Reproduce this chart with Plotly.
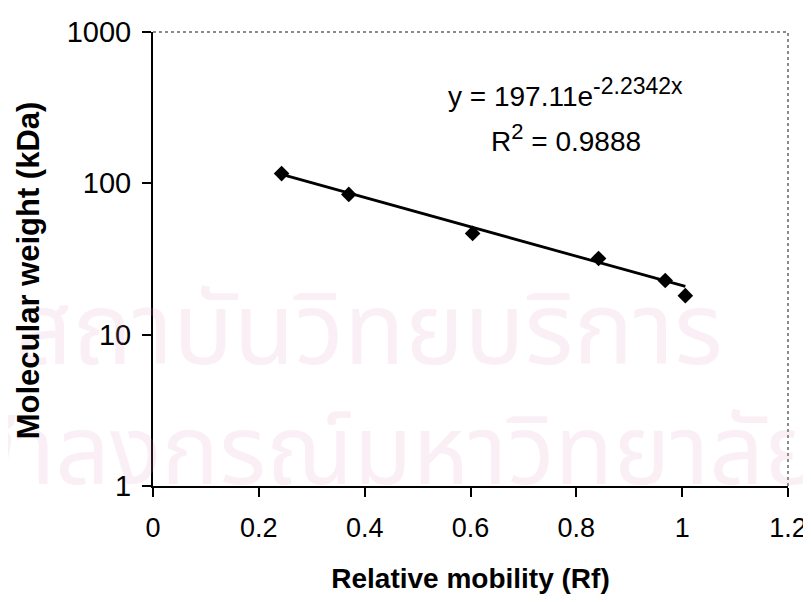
import plotly.graph_objects as go
import numpy as np

# Data
rf_values = [0.243, 0.370, 0.604, 0.842, 0.968, 1.006]
mw_values = [116, 84.5, 46.7, 31.9, 22.8, 18.1]

# Exponential trendline coefficients shown on chart
fit_a = 197.11
fit_b = -2.2342
fit_r2 = 0.9888

x_ticks = [0, 0.2, 0.4, 0.6, 0.8, 1.0, 1.2]
x_tick_labels = ["0", "0.2", "0.4", "0.6", "0.8", "1", "1.2"]
y_ticks = [1, 10, 100, 1000]
y_tick_labels = ["1", "10", "100", "1000"]

fx = np.linspace(min(rf_values), max(rf_values), 50)
fy = fit_a * np.exp(fit_b * fx)

FONT = "Liberation Sans, Arial, sans-serif"
WM_FONT = "Noto Sans Thai, Noto Sans, DejaVu Sans, sans-serif"
WM_COLOR = "rgba(214,150,185,0.15)"

fig = go.Figure()

fig.add_trace(go.Scatter(
    x=fx, y=fy, mode="lines",
    line=dict(color="black", width=2.8),
    showlegend=False, hoverinfo="skip"))

fig.add_trace(go.Scatter(
    x=rf_values, y=mw_values, mode="markers",
    marker=dict(symbol="diamond", size=12, color="black"),
    showlegend=False))

# faint watermark text
fig.add_annotation(x=-0.22, y=0.165, xref="paper", yref="paper",
                   text="สถาบันวิทยบริการ", showarrow=False, xanchor="left",
                   font=dict(size=100, color=WM_COLOR, family=WM_FONT))
fig.add_annotation(x=-0.40, y=-0.095, xref="paper", yref="paper",
                   text="จุฬาลงกรณ์มหาวิทยาลัย", showarrow=False, xanchor="left",
                   font=dict(size=96, color=WM_COLOR, family=WM_FONT))

# trendline equation
fig.add_annotation(x=0.65, y=0.913, xref="paper", yref="paper",
                   text=(f"y = {fit_a:.2f}e<sup><span style='font-size:23px'>"
                         f"{fit_b:.4f}x</span></sup>"),
                   showarrow=False, xanchor="center",
                   font=dict(size=28, color="black", family=FONT))
fig.add_annotation(x=0.65, y=0.813, xref="paper", yref="paper",
                   text=f"R<sup><span style='font-size:22px'>2</span></sup> = {fit_r2:.4f}",
                   showarrow=False, xanchor="center",
                   font=dict(size=28, color="black", family=FONT))

# y-axis title
fig.add_annotation(x=-0.197, y=0.475, xref="paper", yref="paper",
                   text="<b>Molecular weight (kDa)</b>", textangle=-90,
                   showarrow=False, xanchor="center", yanchor="middle",
                   font=dict(size=31, color="black", family=FONT))

# dotted plot-area border (top and right)
fig.add_shape(type="line", xref="paper", yref="paper", x0=0, y0=1, x1=1, y1=1,
              line=dict(color="#666", width=1.5, dash="dot"))
fig.add_shape(type="line", xref="paper", yref="paper", x0=1, y0=0, x1=1, y1=1,
              line=dict(color="#666", width=1.5, dash="dot"))

fig.update_layout(
    width=803, height=586,
    margin=dict(l=145, r=23, t=24, b=108),
    paper_bgcolor="white", plot_bgcolor="white",
    font=dict(family=FONT, color="black"),
    xaxis=dict(
        range=[0, 1.2], tickvals=x_ticks, ticktext=x_tick_labels,
        showgrid=False, zeroline=False, automargin=False,
        showline=True, linecolor="black", linewidth=2,
        ticks="outside", ticklen=9, tickwidth=2, tickcolor="black",
        tickfont=dict(size=27), ticklabelstandoff=8, ticklabeloverflow="allow",
        title=dict(text="<b>Relative mobility (Rf)</b>", font=dict(size=28), standoff=31),
    ),
    yaxis=dict(
        type="log", range=[0, 3], tickvals=y_ticks, ticktext=y_tick_labels,
        showgrid=False, zeroline=False, automargin=False,
        showline=True, linecolor="black", linewidth=2,
        ticks="outside", ticklen=9, tickwidth=2, tickcolor="black",
        tickfont=dict(size=29), ticklabelstandoff=5, ticklabeloverflow="allow",
    ),
)

fig.write_html("out.html")
